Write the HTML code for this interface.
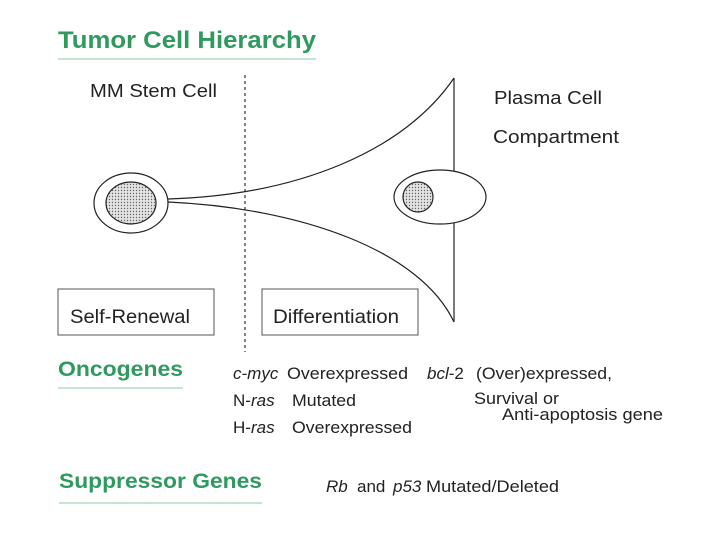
<!DOCTYPE html>
<html><head><meta charset="utf-8"><style>
html,body{margin:0;padding:0;background:#fff;width:720px;height:540px;overflow:hidden}
svg{display:block}
text{font-family:"Liberation Sans",Arial,sans-serif;fill:#222}
.g{fill:#2e9a5e;font-weight:bold}
</style></head><body>
<svg width="720" height="540" viewBox="0 0 720 540" xmlns="http://www.w3.org/2000/svg">
<defs>
<pattern id="dots" width="3" height="3" patternUnits="userSpaceOnUse">
<rect width="3" height="3" fill="#e4e4e4"/><circle cx="1.5" cy="1.5" r="0.7" fill="#666"/>
</pattern>
</defs>
<text class="g" x="58" y="48" font-size="24" textLength="258" lengthAdjust="spacingAndGlyphs">Tumor Cell Hierarchy</text>
<line x1="58" y1="59" x2="316" y2="59" stroke="#8cc9a4" stroke-width="1"/>
<text x="90" y="97" font-size="18" textLength="127" lengthAdjust="spacingAndGlyphs">MM Stem Cell</text>
<text x="494" y="104" font-size="18" textLength="108" lengthAdjust="spacingAndGlyphs">Plasma Cell</text>
<text x="493" y="143" font-size="18" textLength="126" lengthAdjust="spacingAndGlyphs">Compartment</text>
<line x1="245" y1="75" x2="245" y2="352" stroke="#333" stroke-width="1.2" stroke-dasharray="3,3"/>
<path d="M168,199 C300,195 405,150 454,78" fill="none" stroke="#222" stroke-width="1.2"/>
<path d="M168,202 C300,208 420,250 454,322" fill="none" stroke="#222" stroke-width="1.2"/>
<line x1="454" y1="78" x2="454" y2="322" stroke="#222" stroke-width="1.2"/>
<ellipse cx="131" cy="203" rx="37" ry="30" fill="#fff" stroke="#222" stroke-width="1.2"/>
<ellipse cx="131" cy="203" rx="25" ry="21" fill="url(#dots)" stroke="#222" stroke-width="1.2"/>
<ellipse cx="440" cy="197" rx="46" ry="27" fill="#fff" stroke="#222" stroke-width="1.2"/>
<ellipse cx="418" cy="197" rx="15" ry="15" fill="url(#dots)" stroke="#222" stroke-width="1.2"/>
<rect x="58" y="289" width="156" height="46" fill="none" stroke="#555" stroke-width="1"/>
<rect x="262" y="289" width="156" height="46" fill="none" stroke="#555" stroke-width="1"/>
<text x="70" y="323" font-size="19" textLength="120" lengthAdjust="spacingAndGlyphs">Self-Renewal</text>
<text x="273" y="323" font-size="19" textLength="126" lengthAdjust="spacingAndGlyphs">Differentiation</text>
<text class="g" x="58" y="376" font-size="21" textLength="125" lengthAdjust="spacingAndGlyphs">Oncogenes</text>
<line x1="58" y1="388" x2="183" y2="388" stroke="#8cc9a4" stroke-width="1"/>
<text class="g" x="59" y="488" font-size="21" textLength="203" lengthAdjust="spacingAndGlyphs">Suppressor Genes</text>
<line x1="59" y1="503" x2="262" y2="503" stroke="#8cc9a4" stroke-width="1"/>
<text x="233" y="379" font-size="17"><tspan font-style="italic">c-myc</tspan></text>
<text x="287" y="379" font-size="17" textLength="121" lengthAdjust="spacingAndGlyphs">Overexpressed</text>
<text x="233" y="406" font-size="17">N-<tspan font-style="italic">ras</tspan></text>
<text x="292" y="406" font-size="17" textLength="64" lengthAdjust="spacingAndGlyphs">Mutated</text>
<text x="233" y="433" font-size="17">H-<tspan font-style="italic">ras</tspan></text>
<text x="292" y="433" font-size="17" textLength="120" lengthAdjust="spacingAndGlyphs">Overexpressed</text>
<text x="427" y="379" font-size="17"><tspan font-style="italic">bcl</tspan>-2</text>
<text x="476" y="379" font-size="17" textLength="136" lengthAdjust="spacingAndGlyphs">(Over)expressed,</text>
<text x="474" y="404" font-size="17" textLength="85" lengthAdjust="spacingAndGlyphs">Survival or</text>
<text x="502" y="420" font-size="17" textLength="161" lengthAdjust="spacingAndGlyphs">Anti-apoptosis gene</text>
<text x="326" y="492" font-size="17"><tspan font-style="italic">Rb</tspan></text>
<text x="357" y="492" font-size="17">and</text>
<text x="393" y="492" font-size="17" font-style="italic">p53</text>
<text x="426" y="492" font-size="17" textLength="133" lengthAdjust="spacingAndGlyphs">Mutated/Deleted</text>
</svg>
</body></html>
